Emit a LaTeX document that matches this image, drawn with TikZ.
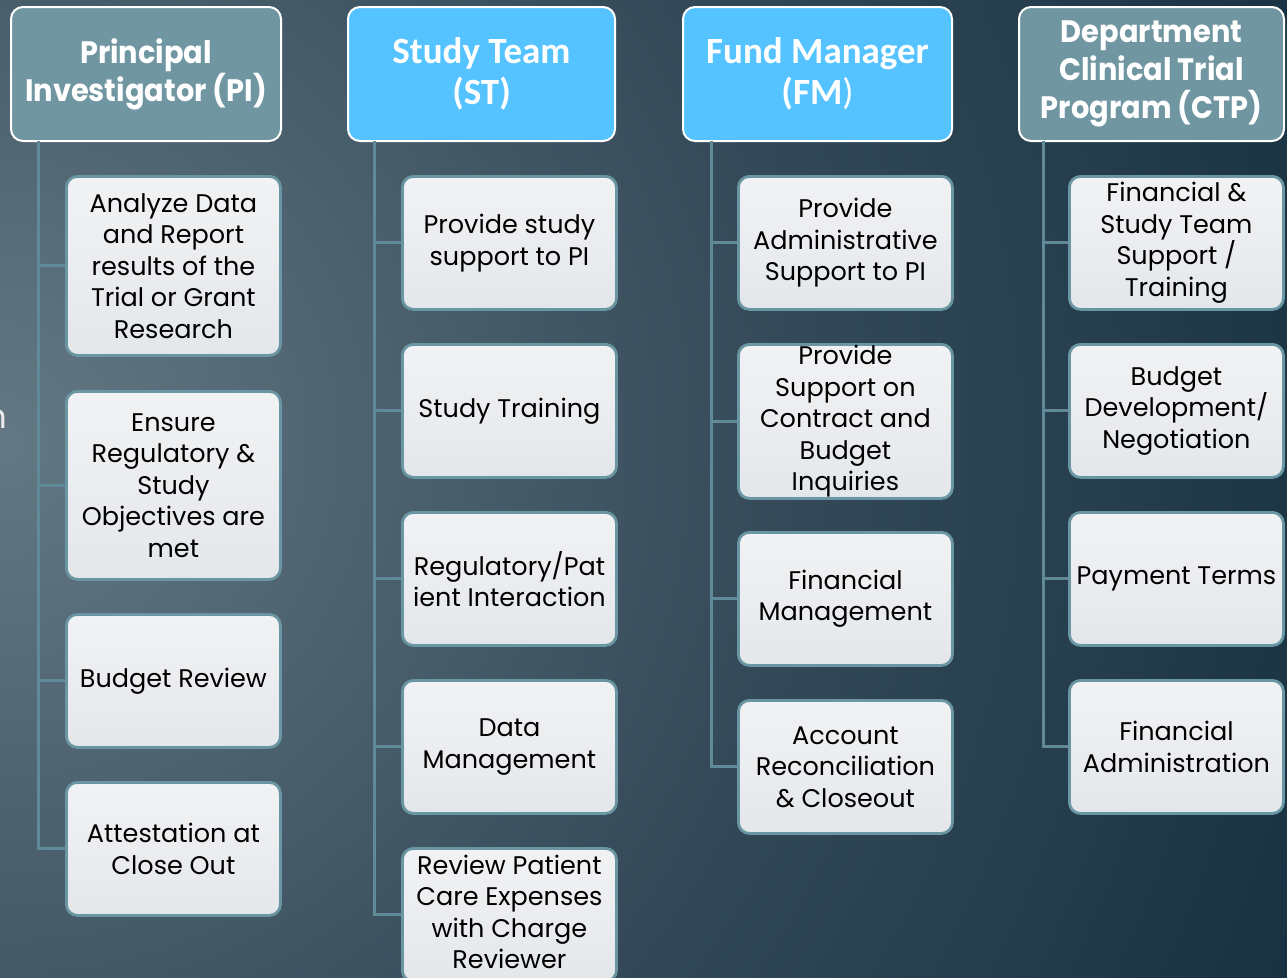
\documentclass[tikz,border=0pt]{standalone}
\usepackage{fontspec}
\setmainfont{Poppins}
\newfontfamily\hdfont{Poppins}[FakeStretch=0.93]
\newfontfamily\hdbfont{Carlito}
\newfontfamily\chfont{Poppins}
\definecolor{bgA}{RGB}{100,120,132}
\definecolor{bgM}{RGB}{52,74,88}
\definecolor{bgB}{RGB}{6,34,52}
\definecolor{hdgray}{RGB}{112,150,162}
\definecolor{hdblue}{RGB}{85,195,255}
\definecolor{cfillA}{RGB}{241,242,244}
\definecolor{cfillB}{RGB}{228,231,234}
\definecolor{cbord}{RGB}{106,150,164}
\definecolor{lnk}{RGB}{96,138,152}
\pgfdeclareradialshading{bgshade}{\pgfpoint{0bp}{0bp}}{color(0bp)=(bgA); color(14bp)=(bgM); color(32bp)=(bgB); color(50bp)=(bgB)}
\tikzset{
  hdr/.style={draw=white, line width=2, rounded corners=12, inner sep=0,
    minimum height=134, anchor=north west, align=center, text=white,
    font=\hdfont\bfseries\fontsize{31}{38}\selectfont},
  hdgrey/.style={hdr, fill=hdgray},
  hdblu/.style={hdr, fill=hdblue, font=\hdbfont\bfseries\fontsize{37}{41}\selectfont},
  chbox/.style={draw=cbord, line width=2.8, top color=cfillA, bottom color=cfillB,
    rounded corners=11, minimum width=214, inner sep=0, anchor=north west,
    align=center, text=black, font=\chfont\fontsize{25.5}{31.5}\selectfont},
  chtext/.style={inner sep=0, align=center, text=black, font=\chfont\fontsize{25.5}{31.5}\selectfont},
  lnkline/.style={draw=lnk, line width=3}
}
\begin{document}
\begin{tikzpicture}[x=1pt,y=-1pt]
\useasboundingbox (0,0) rectangle (1287,977);
\begin{scope}
\clip (0,0) rectangle (1287,977);
\shade[shading=bgshade] (0,440) circle (1400);
\node[anchor=base east, inner sep=0, text=white!92!black, font=\fontsize{34}{40}\selectfont] (cut) at (7,428) {n};

% headers
\node[hdgrey, minimum width=270] (pi) at (10,6) {Principal\\Investigator (PI)};
\node[hdblu, minimum width=267] (st) at (347,6) {Study Team\\(ST)};
\node[hdblu, minimum width=269] (fm) at (682,6) {Fund Manager\\(FM{\mdseries )}};
\node[hdgrey, minimum width=265] (ctp) at (1018,6) {Department\\Clinical Trial\\Program (CTP)};

% trunk coordinates
\coordinate (piT) at (38,141);
\coordinate (stT) at (374,141);
\coordinate (fmT) at (711,141);
\coordinate (ctpT) at (1043,141);

% PI children
\node[chbox, minimum height=179] (pi1) at (65,175) {Analyze Data\\and Report\\results of the\\Trial or Grant\\Research};
\node[chbox, minimum height=188] (pi2) at (65,390) {Ensure\\Regulatory \&\\Study\\Objectives are\\met};
\node[chbox, minimum height=133] (pi3) at (65,613) {Budget Review};
\node[chbox, minimum height=133] (pi4) at (65,781) {Attestation at\\Close Out};

% ST children
\node[chbox, minimum height=133] (st1) at (401,175) {Provide study\\support to PI};
\node[chbox, minimum height=133] (st2) at (401,343) {Study Training};
\node[chbox, minimum height=133] (st3) at (401,511) {Regulatory/Pat\\ient Interaction};
\node[chbox, minimum height=133] (st4) at (401,679) {Data\\Management};
\node[chbox, minimum height=133] (st5) at (401,847) {};
\node[chtext] (st5t) at ([yshift=3]st5.center) {Review Patient\\Care Expenses\\with Charge\\Reviewer};

% FM children
\node[chbox, minimum height=133] (fm1) at (737,175) {Provide\\Administrative\\Support to PI};
\node[chbox, minimum height=154] (fm2) at (737,343) {Provide\\Support on\\Contract and\\Budget\\Inquiries};
\node[chbox, minimum height=133] (fm3) at (737,531) {Financial\\Management};
\node[chbox, minimum height=133] (fm4) at (737,699) {Account\\Reconciliation\\\& Closeout};

% CTP children
\node[chbox, minimum height=133] (ctp1) at (1068,175) {Financial \&\\Study Team\\Support /\\Training};
\node[chbox, minimum height=133] (ctp2) at (1068,343) {Budget\\Development/\\Negotiation};
\node[chbox, minimum height=133] (ctp3) at (1068,511) {Payment Terms};
\node[chbox, minimum height=133] (ctp4) at (1068,679) {Financial\\Administration};

% connectors
\foreach \c in {pi1,pi2,pi3,pi4} \draw[lnkline] (piT) |- (\c.west);
\foreach \c in {st1,st2,st3,st4,st5} \draw[lnkline] (stT) |- (\c.west);
\foreach \c in {fm1,fm2,fm3,fm4} \draw[lnkline] (fmT) |- (\c.west);
\foreach \c in {ctp1,ctp2,ctp3,ctp4} \draw[lnkline] (ctpT) |- (\c.west);
\end{scope}
\end{tikzpicture}
\end{document}
